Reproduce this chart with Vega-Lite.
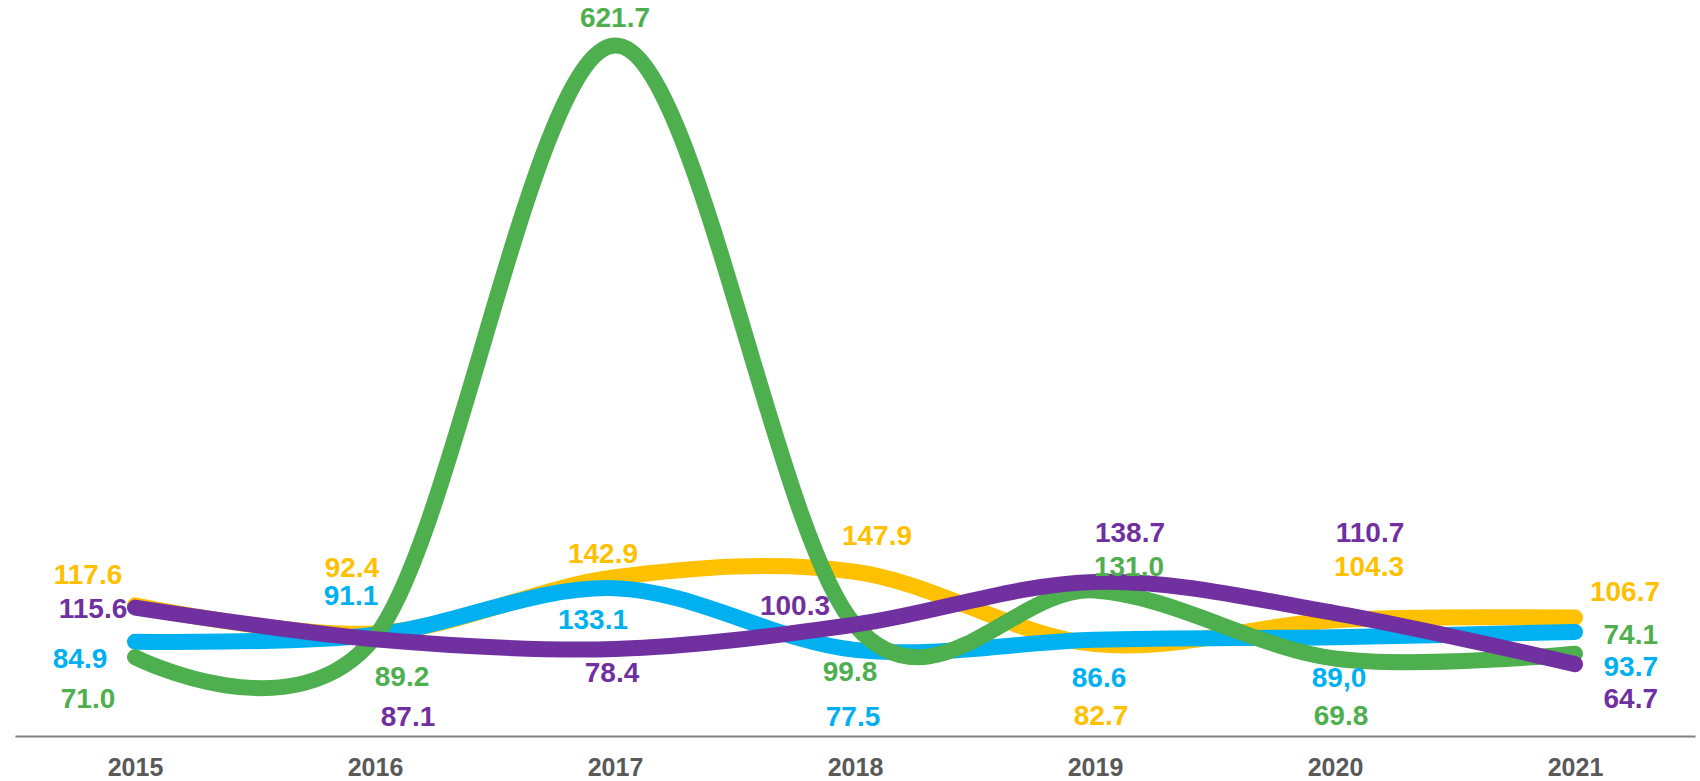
{
  "$schema": "https://vega.github.io/schema/vega-lite/v6.json",
  "width": 1680,
  "height": 722,
  "autosize": "none",
  "padding": {"left": 15, "top": 14, "right": 5, "bottom": 45},
  "background": "white",
  "config": {
    "view": {"stroke": null},
    "font": "Liberation Sans",
    "text": {"fontSize": 28, "fontWeight": "bold", "baseline": "middle", "align": "center", "font": "Liberation Sans"}
  },
  "data": {
    "values": [
      {"series": "Series 1", "year": "2015", "value": 117.6, "label": "117.6"},
      {"series": "Series 1", "year": "2016", "value": 92.4, "label": "92.4"},
      {"series": "Series 1", "year": "2017", "value": 142.9, "label": "142.9"},
      {"series": "Series 1", "year": "2018", "value": 147.9, "label": "147.9"},
      {"series": "Series 1", "year": "2019", "value": 82.7, "label": "82.7"},
      {"series": "Series 1", "year": "2020", "value": 104.3, "label": "104.3"},
      {"series": "Series 1", "year": "2021", "value": 106.7, "label": "106.7"},
      {"series": "Series 2", "year": "2015", "value": 84.9, "label": "84.9"},
      {"series": "Series 2", "year": "2016", "value": 91.1, "label": "91.1"},
      {"series": "Series 2", "year": "2017", "value": 133.1, "label": "133.1"},
      {"series": "Series 2", "year": "2018", "value": 77.5, "label": "77.5"},
      {"series": "Series 2", "year": "2019", "value": 86.6, "label": "86.6"},
      {"series": "Series 2", "year": "2020", "value": 89.0, "label": "89,0"},
      {"series": "Series 2", "year": "2021", "value": 93.7, "label": "93.7"},
      {"series": "Series 3", "year": "2015", "value": 71.0, "label": "71.0"},
      {"series": "Series 3", "year": "2016", "value": 89.2, "label": "89.2"},
      {"series": "Series 3", "year": "2017", "value": 621.7, "label": "621.7"},
      {"series": "Series 3", "year": "2018", "value": 99.8, "label": "99.8"},
      {"series": "Series 3", "year": "2019", "value": 131.0, "label": "131.0"},
      {"series": "Series 3", "year": "2020", "value": 69.8, "label": "69.8"},
      {"series": "Series 3", "year": "2021", "value": 74.1, "label": "74.1"},
      {"series": "Series 4", "year": "2015", "value": 115.6, "label": "115.6"},
      {"series": "Series 4", "year": "2016", "value": 87.1, "label": "87.1"},
      {"series": "Series 4", "year": "2017", "value": 78.4, "label": "78.4"},
      {"series": "Series 4", "year": "2018", "value": 100.3, "label": "100.3"},
      {"series": "Series 4", "year": "2019", "value": 138.7, "label": "138.7"},
      {"series": "Series 4", "year": "2020", "value": 110.7, "label": "110.7"},
      {"series": "Series 4", "year": "2021", "value": 64.7, "label": "64.7"}
    ]
  },
  "transform": [
    {"window": [{"op": "rank", "as": "r"}], "groupby": ["year"], "sort": [{"field": "value", "order": "descending"}]}
  ],
  "encoding": {
    "x": {
      "field": "year", "type": "ordinal",
      "scale": {"type": "point", "padding": 0.5},
      "axis": {
        "title": null, "domain": true, "domainColor": "#808080", "domainWidth": 2,
        "ticks": false, "grid": false, "labelAngle": 0,
        "labelFont": "Liberation Sans", "labelFontSize": 25, "labelFontWeight": "bold",
        "labelColor": "#595959", "labelPadding": 19
      }
    },
    "color": {
      "field": "series", "type": "nominal",
      "scale": {"domain": ["Series 1", "Series 2", "Series 3", "Series 4"], "range": ["#FFC000", "#00B0F0", "#4EAF4E", "#7030A0"]},
      "legend": null
    },
    "text": {"field": "label"}
  },
  "layer": [
    {
      "mark": {"type": "line", "interpolate": "cardinal", "tension": 0, "strokeWidth": 16, "strokeCap": "round", "strokeJoin": "round"},
      "encoding": {
        "y": {"field": "value", "type": "quantitative", "scale": {"domain": [0, 650], "nice": false, "zero": true}, "axis": null}
      }
    },
    {
      "transform": [{"filter": "datum.year == '2017' && datum.r == 1"}],
      "mark": {"type": "text", "dy": -26},
      "encoding": {"y": {"field": "value", "type": "quantitative", "axis": null}}
    },
    {
      "transform": [{"filter": "datum.year == '2017' && datum.r == 2"}],
      "mark": {"type": "text", "dx": -12},
      "encoding": {"y": {"datum": 162.9, "type": "quantitative", "axis": null}}
    },
    {
      "transform": [{"filter": "datum.year == '2017' && datum.r == 3"}],
      "mark": {"type": "text", "dx": -22},
      "encoding": {"y": {"datum": 103.5, "type": "quantitative", "axis": null}}
    },
    {
      "transform": [{"filter": "datum.year == '2017' && datum.r == 4"}],
      "mark": {"type": "text", "dx": -3},
      "encoding": {"y": {"datum": 55.8, "type": "quantitative", "axis": null}}
    },
    {
      "transform": [{"filter": "datum.year == '2016' && datum.r == 1"}],
      "mark": {"type": "text", "dx": -23},
      "encoding": {"y": {"datum": 150.3, "type": "quantitative", "axis": null}}
    },
    {
      "transform": [{"filter": "datum.year == '2016' && datum.r == 2"}],
      "mark": {"type": "text", "dx": -24},
      "encoding": {"y": {"datum": 125.1, "type": "quantitative", "axis": null}}
    },
    {
      "transform": [{"filter": "datum.year == '2016' && datum.r == 3"}],
      "mark": {"type": "text", "dx": 27},
      "encoding": {"y": {"datum": 52.2, "type": "quantitative", "axis": null}}
    },
    {
      "transform": [{"filter": "datum.year == '2016' && datum.r == 4"}],
      "mark": {"type": "text", "dx": 33},
      "encoding": {"y": {"datum": 16.2, "type": "quantitative", "axis": null}}
    },
    {
      "transform": [{"filter": "datum.year == '2018' && datum.r == 1"}],
      "mark": {"type": "text", "dx": 22},
      "encoding": {"y": {"datum": 179.2, "type": "quantitative", "axis": null}}
    },
    {
      "transform": [{"filter": "datum.year == '2018' && datum.r == 2"}],
      "mark": {"type": "text", "dx": -60},
      "encoding": {"y": {"datum": 116.1, "type": "quantitative", "axis": null}}
    },
    {
      "transform": [{"filter": "datum.year == '2018' && datum.r == 3"}],
      "mark": {"type": "text", "dx": -5},
      "encoding": {"y": {"datum": 56.7, "type": "quantitative", "axis": null}}
    },
    {
      "transform": [{"filter": "datum.year == '2018' && datum.r == 4"}],
      "mark": {"type": "text", "dx": -2},
      "encoding": {"y": {"datum": 16.2, "type": "quantitative", "axis": null}}
    },
    {
      "transform": [{"filter": "(datum.year == '2019' || datum.year == '2020') && datum.r == 1"}],
      "mark": {"type": "text", "dx": 35},
      "encoding": {"y": {"datum": 181.9, "type": "quantitative", "axis": null}}
    },
    {
      "transform": [{"filter": "(datum.year == '2019' || datum.year == '2020') && datum.r == 2"}],
      "mark": {"type": "text", "dx": 34},
      "encoding": {"y": {"datum": 151.2, "type": "quantitative", "axis": null}}
    },
    {
      "transform": [{"filter": "(datum.year == '2019' || datum.year == '2020') && datum.r == 3"}],
      "mark": {"type": "text", "dx": 4},
      "encoding": {"y": {"datum": 50.9, "type": "quantitative", "axis": null}}
    },
    {
      "transform": [{"filter": "(datum.year == '2019' || datum.year == '2020') && datum.r == 4"}],
      "mark": {"type": "text", "dx": 6},
      "encoding": {"y": {"datum": 16.7, "type": "quantitative", "axis": null}}
    },
    {
      "transform": [{"filter": "datum.year == '2015' && datum.r == 1"}],
      "mark": {"type": "text", "dx": -47},
      "encoding": {"y": {"datum": 144.0, "type": "quantitative", "axis": null}}
    },
    {
      "transform": [{"filter": "datum.year == '2015' && datum.r == 2"}],
      "mark": {"type": "text", "dx": -42},
      "encoding": {"y": {"datum": 113.4, "type": "quantitative", "axis": null}}
    },
    {
      "transform": [{"filter": "datum.year == '2015' && datum.r == 3"}],
      "mark": {"type": "text", "dx": -55},
      "encoding": {"y": {"datum": 68.4, "type": "quantitative", "axis": null}}
    },
    {
      "transform": [{"filter": "datum.year == '2015' && datum.r == 4"}],
      "mark": {"type": "text", "dx": -47},
      "encoding": {"y": {"datum": 32.4, "type": "quantitative", "axis": null}}
    },
    {
      "transform": [{"filter": "datum.year == '2021' && datum.r == 1"}],
      "mark": {"type": "text", "align": "right", "dx": 85},
      "encoding": {"y": {"datum": 128.7, "type": "quantitative", "axis": null}}
    },
    {
      "transform": [{"filter": "datum.year == '2021' && datum.r == 2"}],
      "mark": {"type": "text", "align": "right", "dx": 83},
      "encoding": {"y": {"datum": 61.2, "type": "quantitative", "axis": null}}
    },
    {
      "transform": [{"filter": "datum.year == '2021' && datum.r == 3"}],
      "mark": {"type": "text", "align": "right", "dx": 83},
      "encoding": {"y": {"datum": 90.0, "type": "quantitative", "axis": null}}
    },
    {
      "transform": [{"filter": "datum.year == '2021' && datum.r == 4"}],
      "mark": {"type": "text", "align": "right", "dx": 83},
      "encoding": {"y": {"datum": 32.4, "type": "quantitative", "axis": null}}
    }
  ]
}
